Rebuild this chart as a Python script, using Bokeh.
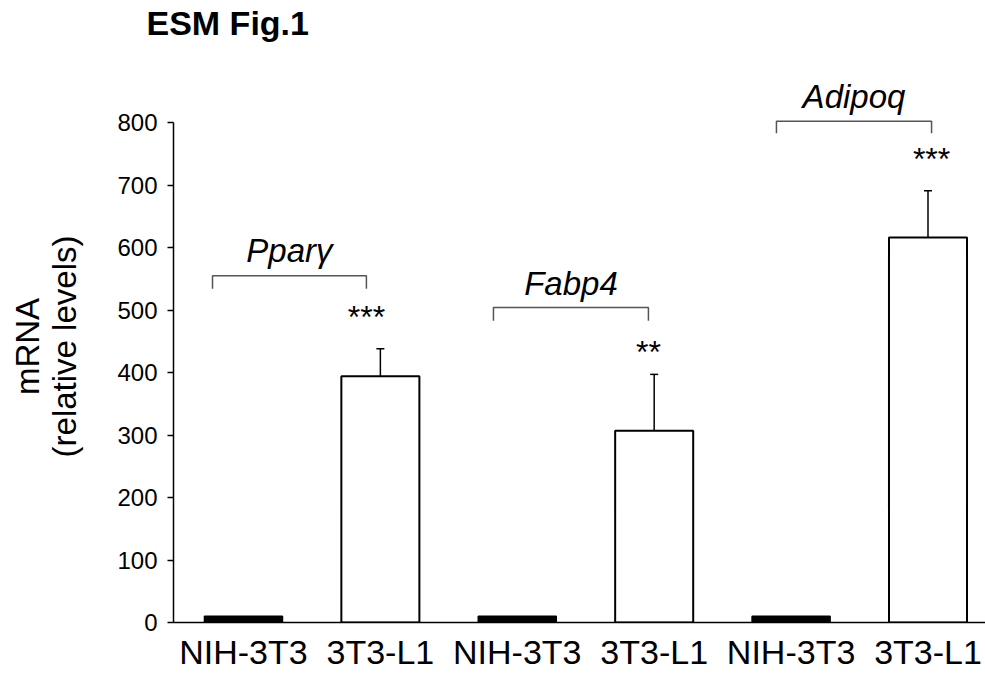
from bokeh.plotting import figure
from bokeh.models import Range1d, FixedTicker, Whisker, TeeHead, ColumnDataSource, Title
from bokeh.core.properties import value
from bokeh.embed import file_html
from bokeh.resources import INLINE

# ---- data ----
genes = ["Pparγ", "Fabp4", "Adipoq"]
cell_lines = ["NIH-3T3", "3T3-L1"]
nih_values = [10, 10, 10]
l1_values = [394, 307, 616]
l1_errors = [44, 90, 75]
significance = ["***", "**", "***"]
y_ticks = [0, 100, 200, 300, 400, 500, 600, 700, 800]

# ---- annotation placement (data units) ----
bracket_left = [-0.226, 1.826, 3.893]
bracket_right = [0.898, 2.958, 5.026]
bracket_top = [555, 504, 802]
bracket_drop = [21, 21, 19]
gene_label_y = [595, 542, 841]
star_y = [489, 433, 741]

FONT = "Liberation Sans"

nih_x = [2 * i for i in range(len(genes))]
l1_x = [2 * i + 1 for i in range(len(genes))]

p = figure(width=985, height=680, output_backend="svg", toolbar_location=None,
           x_range=Range1d(-0.511, 5.42), y_range=Range1d(0, 883.2),
           min_border_left=173, min_border_right=0, min_border_top=70,
           min_border_bottom=58)
p.outline_line_color = None
p.xgrid.visible = False
p.ygrid.visible = False
p.background_fill_color = "white"
p.border_fill_color = "white"

p.title.text = "ESM Fig.1"
p.title.text_font = FONT
p.title.text_font_size = "34px"
p.title.text_font_style = "bold"
p.title.text_color = "black"
p.title.align = "left"
p.title.offset = -27
p.title.standoff = 4
p.title.vertical_align = "top"

# empty spacer panel between the title and the plot frame
spacer = Title(text=" ", text_font_size="10px", standoff=12)
p.add_layout(spacer, "above")

bar_w = 0.57
p.vbar(x=nih_x, top=nih_values, bottom=0, width=bar_w, fill_color="black",
       line_color="black", line_width=1.5)
p.vbar(x=l1_x, top=l1_values, bottom=0, width=bar_w, fill_color="white",
       line_color="black", line_width=2)

err_src = ColumnDataSource(dict(x=l1_x, lower=l1_values,
                                upper=[v + e for v, e in zip(l1_values, l1_errors)]))
w = Whisker(base="x", lower="lower", upper="upper", source=err_src,
            line_color="black", line_width=1.5,
            upper_head=TeeHead(size=8, line_color="black", line_width=1.5),
            lower_head=None)
p.add_layout(w)

# brackets
xs, ys = [], []
for l, r, t, d in zip(bracket_left, bracket_right, bracket_top, bracket_drop):
    xs.append([l, l, r, r])
    ys.append([t - d, t, t, t - d])
p.multi_line(xs=xs, ys=ys, line_color="#555555", line_width=1.5)

# gene labels
mid = [(l + r) / 2 for l, r in zip(bracket_left, bracket_right)]
p.text(x=mid, y=gene_label_y, text=genes, text_font=value(FONT),
       text_font_size="33px", text_font_style="italic", text_align="center",
       text_baseline="alphabetic", text_color="black")

# significance stars
p.text(x=bracket_right, y=star_y, text=significance, text_font=value(FONT),
       text_font_size="32px", text_align="center", text_baseline="alphabetic",
       text_color="black")

# axes
ya = p.yaxis[0]
ya.ticker = FixedTicker(ticks=y_ticks)
ya.bounds = (0, 800)
ya.minor_tick_line_color = None
ya.major_tick_in = 0
ya.major_tick_out = 6
ya.major_tick_line_width = 1.5
ya.axis_line_width = 1.5
ya.major_label_standoff = 10
ya.major_label_text_font = FONT
ya.major_label_text_font_size = "24px"
ya.major_label_text_color = "black"
ya.axis_label = "mRNA\n(relative levels)"
ya.axis_label_text_font = FONT
ya.axis_label_text_font_size = "33px"
ya.axis_label_text_font_style = "normal"
ya.axis_label_text_color = "black"
ya.axis_label_text_line_height = 1.0
ya.axis_label_standoff = 31

xa = p.xaxis[0]
xa.ticker = FixedTicker(ticks=nih_x + l1_x)
xa.major_label_overrides = {**{x: cell_lines[0] for x in nih_x},
                            **{x: cell_lines[1] for x in l1_x}}
xa.major_tick_line_color = None
xa.minor_tick_line_color = None
xa.axis_line_width = 1.5
xa.major_label_standoff = 4
xa.major_label_text_font = FONT
xa.major_label_text_font_size = "34px"
xa.major_label_text_color = "black"

open("out.html", "w").write(file_html(p, INLINE))
